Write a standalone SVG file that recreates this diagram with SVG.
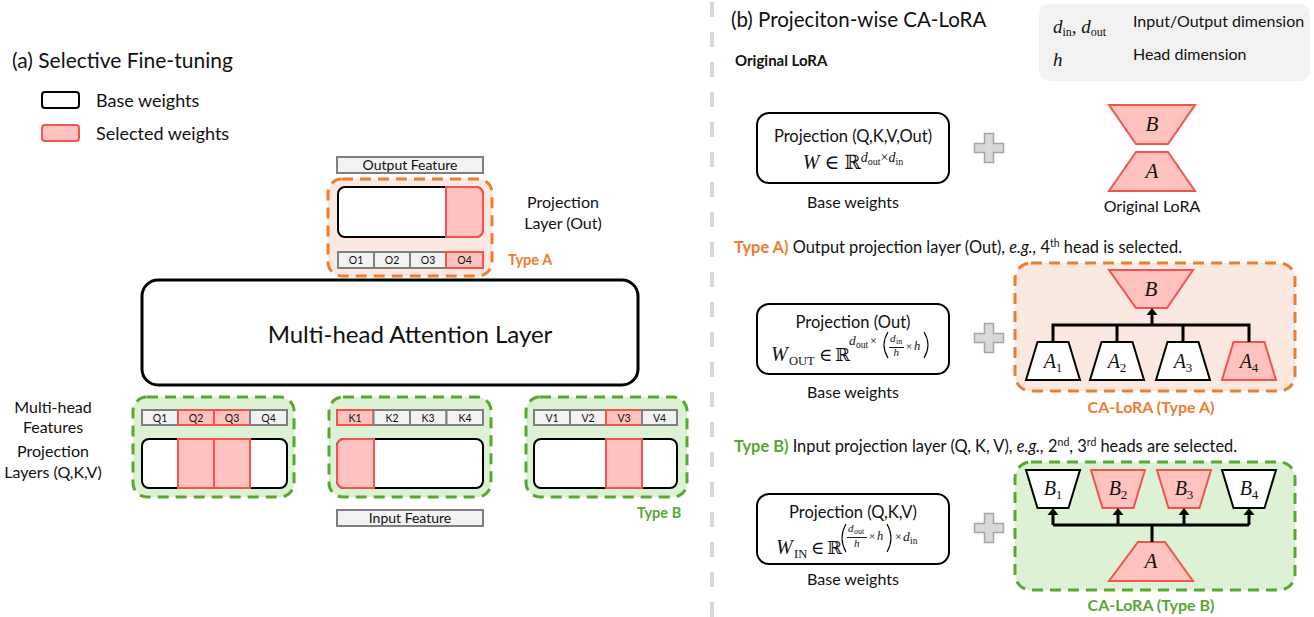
<svg xmlns="http://www.w3.org/2000/svg" width="1314" height="617" viewBox="0 0 1314 617">
<style>
text{font-family:Lato,"Liberation Sans",sans-serif;fill:#111}
.m{font-family:"Liberation Serif","DejaVu Serif",serif}
.i{font-style:italic}
.b{font-weight:bold}
.base{fill:#fff;stroke:#000;stroke-width:2}
.sel{fill:#FFC2BF;stroke:#F5534E;stroke-width:2}
.cell{fill:#F2F2F2;stroke:#7F7F7F;stroke-width:2}
.cellr{fill:#FFC2BF;stroke:#F5534E;stroke-width:2}
.ct{font-size:10.5px;text-anchor:middle}
.orng{fill:#FBE9E1;stroke:#ED7D31;stroke-width:3;stroke-dasharray:11 7}
.grn{fill:#DDF1D4;stroke:#5AA634;stroke-width:3;stroke-dasharray:11 7}
.wbox{fill:#fff;stroke:#000;stroke-width:2}
.plus{fill:#D9D9D9;stroke:#A5A5A5;stroke-width:1.5}
.conn{fill:none;stroke:#000;stroke-width:3}
.c{text-anchor:middle}
</style>
<defs>
<path id="plus" d="M-4.5,-14.5H4.5V-4.5H14.5V4.5H4.5V14.5H-4.5V4.5H-14.5V-4.5H-4.5Z"/>
</defs>

<!-- separator -->
<line x1="712" y1="2" x2="712" y2="617" stroke="#D9D9D9" stroke-width="4" stroke-dasharray="15 15"/>

<!-- (a) -->
<g id="title-a">
<text x="12" y="68" font-size="21">(a) Selective Fine-tuning</text>
</g>
<g id="legend-a">
<rect x="42" y="92" width="37" height="16" rx="3" class="base"/>
<text x="96" y="107" font-size="18">Base weights</text>
<rect x="42" y="125" width="37" height="16" rx="3" class="sel"/>
<text x="96" y="140" font-size="18">Selected weights</text>
</g>

<g id="output-feature">
<rect x="337" y="157" width="146" height="16" class="cell"/>
<text x="410" y="170" font-size="14" class="c">Output Feature</text>
</g>

<g id="proj-out">
<rect x="328" y="179" width="164" height="97" rx="14" class="orng"/>
<rect x="338" y="187" width="145" height="50" rx="7" class="base"/>
<path d="M446,187H476A7,7 0 0 1 483,194V230A7,7 0 0 1 476,237H446Z" class="sel"/>
<rect x="338" y="252" width="36" height="16" class="cell"/>
<rect x="374" y="252" width="36" height="16" class="cell"/>
<rect x="410" y="252" width="36" height="16" class="cell"/>
<rect x="446" y="252" width="37" height="16" class="cellr"/>
<text x="356" y="264" class="ct">O1</text>
<text x="392" y="264" class="ct">O2</text>
<text x="428" y="264" class="ct">O3</text>
<text x="464.5" y="264" class="ct">O4</text>
<text x="563" y="208" font-size="16" class="c">Projection</text>
<text x="563" y="229" font-size="16" class="c">Layer (Out)</text>
<text x="508" y="265" font-size="14.5" class="b" style="fill:#ED7D31">Type A</text>
</g>

<g id="mha">
<rect x="142" y="280" width="496" height="105" rx="16" fill="#fff" stroke="#000" stroke-width="3"/>
<text x="410" y="343" font-size="24" class="c">Multi-head Attention Layer</text>
</g>

<g id="labels-left">
<text x="53" y="413" font-size="16" class="c">Multi-head</text>
<text x="53" y="433" font-size="16" class="c">Features</text>
<text x="53" y="457" font-size="16" class="c">Projection</text>
<text x="53" y="478" font-size="16" class="c">Layers (Q,K,V)</text>
</g>

<g id="proj-q">
<rect x="133" y="397" width="161" height="100" rx="14" class="grn"/>
<rect x="142" y="410" width="36" height="15" class="cell"/>
<rect x="178" y="410" width="36" height="15" class="cellr"/>
<rect x="214" y="410" width="36" height="15" class="cellr"/>
<rect x="250" y="410" width="37" height="15" class="cell"/>
<text x="160" y="421.5" class="ct">Q1</text>
<text x="196" y="421.5" class="ct">Q2</text>
<text x="232" y="421.5" class="ct">Q3</text>
<text x="268.5" y="421.5" class="ct">Q4</text>
<rect x="142" y="439" width="145" height="49" rx="7" class="base"/>
<rect x="178" y="439" width="36" height="49" class="sel"/>
<rect x="214" y="439" width="36" height="49" class="sel"/>
</g>

<g id="proj-k">
<rect x="329" y="397" width="162" height="100" rx="14" class="grn"/>
<rect x="337" y="410" width="36.5" height="15" class="cellr"/>
<rect x="373.5" y="410" width="36.5" height="15" class="cell"/>
<rect x="410" y="410" width="36.5" height="15" class="cell"/>
<rect x="446.5" y="410" width="36.5" height="15" class="cell"/>
<text x="355" y="421.5" class="ct">K1</text>
<text x="392" y="421.5" class="ct">K2</text>
<text x="428" y="421.5" class="ct">K3</text>
<text x="465" y="421.5" class="ct">K4</text>
<rect x="337" y="439" width="146" height="49" rx="7" class="base"/>
<path d="M374,439H344A7,7 0 0 0 337,446V481A7,7 0 0 0 344,488H374Z" class="sel"/>
</g>

<g id="input-feature">
<rect x="337" y="510" width="146" height="16" class="cell"/>
<text x="410" y="523" font-size="14" class="c">Input Feature</text>
</g>

<g id="proj-v">
<rect x="526" y="397" width="161" height="100" rx="14" class="grn"/>
<rect x="534" y="410" width="36" height="15" class="cell"/>
<rect x="570" y="410" width="36" height="15" class="cell"/>
<rect x="606" y="410" width="36" height="15" class="cellr"/>
<rect x="642" y="410" width="35" height="15" class="cell"/>
<text x="552" y="421.5" class="ct">V1</text>
<text x="588" y="421.5" class="ct">V2</text>
<text x="624" y="421.5" class="ct">V3</text>
<text x="659.5" y="421.5" class="ct">V4</text>
<rect x="534" y="439" width="143" height="49" rx="7" class="base"/>
<rect x="606" y="439" width="36" height="49" class="sel"/>
<text x="637" y="518" font-size="14.5" class="b" style="fill:#5AA634">Type B</text>
</g>

<!-- (b) -->
<g id="title-b">
<text x="731" y="27" font-size="20.5">(b) Projeciton-wise CA-LoRA</text>
<text x="735" y="66" font-size="15" class="b">Original LoRA</text>
</g>

<g id="legend-b">
<rect x="1039" y="4" width="271" height="77" rx="10" fill="#F2F2F2"/>
<text x="1053" y="33" class="m" font-size="19"><tspan class="i">d</tspan><tspan font-size="12" dy="3">in</tspan><tspan dy="-3">, </tspan><tspan class="i">d</tspan><tspan font-size="12" dy="3">out</tspan></text>
<text x="1133" y="27" font-size="16">Input/Output dimension</text>
<text x="1053" y="66" class="m i" font-size="19">h</text>
<text x="1133" y="60" font-size="16">Head dimension</text>
</g>

<g id="base-orig">
<rect x="757" y="113" width="192" height="70" rx="12" class="wbox"/>
<text x="853" y="142" font-size="16.5" class="c">Projection (Q,K,V,Out)</text>
<text x="853" y="169" class="m c" font-size="20"><tspan class="i">W</tspan> ∈ ℝ<tspan font-size="14" dy="-7"><tspan class="i">d</tspan><tspan font-size="10" dy="3">out</tspan><tspan dy="-3">×</tspan><tspan class="i">d</tspan><tspan font-size="10" dy="3">in</tspan></tspan></text>
<text x="853" y="208" font-size="16" class="c">Base weights</text>
</g>

<g id="plus1"><use href="#plus" x="989" y="148" class="plus"/></g>

<g id="orig-lora">
<path d="M1109,105H1195L1168,144H1136Z" class="sel"/>
<path d="M1136,152H1168L1195,191H1109Z" class="sel"/>
<text x="1152" y="131" class="m i c" font-size="21">B</text>
<text x="1152" y="178" class="m i c" font-size="21">A</text>
<text x="1152" y="212" font-size="16" class="c">Original LoRA</text>
</g>

<g id="typeA-caption">
<text x="734" y="253" font-size="16.4"><tspan class="b" style="fill:#ED7D31">Type A)</tspan> Output projection layer (Out), <tspan class="i">e.g.,</tspan> 4<tspan font-size="10.5" dy="-6">th</tspan><tspan dy="6"> head is selected.</tspan></text>
</g>

<g id="base-out">
<rect x="757" y="304" width="192" height="70" rx="12" class="wbox"/>
<text x="853" y="328" font-size="16.5" class="c">Projection (Out)</text>
<text x="771" y="361" class="m i" font-size="20">W</text>
<text x="789" y="365" class="m" font-size="12.5">OUT</text>
<text x="819" y="361" class="m" font-size="18">∈</text>
<text x="835" y="361" class="m" font-size="18">ℝ</text>
<text x="849" y="345" class="m i" font-size="13.5">d</text>
<text x="856" y="348" class="m" font-size="9.5">out</text>
<text x="870" y="345" class="m" font-size="12">×</text>
<text x="890" y="342" class="m i" font-size="11">d</text>
<text x="896" y="344" class="m" font-size="8">in</text>
<text x="893.5" y="356" class="m i" font-size="11">h</text>
<text x="906" y="349.5" class="m" font-size="11">×</text>
<text x="914" y="349.5" class="m i" font-size="12.5">h</text>
<path d="M888,332Q880,345 888,358M924,332Q932,345 924,358" fill="none" stroke="#000" stroke-width="1.1"/>
<line x1="889" y1="347.5" x2="904" y2="347.5" stroke="#000" stroke-width="0.9"/>
<text x="853" y="398" font-size="16" class="c">Base weights</text>
</g>

<g id="plus2"><use href="#plus" x="989" y="338" class="plus"/></g>

<g id="ca-lora-a">
<rect x="1015" y="263" width="280" height="128" rx="16" class="orng"/>
<path d="M1109,270H1193L1167,308H1136Z" class="sel"/>
<text x="1151" y="296" class="m i c" font-size="21">B</text>
<path d="M1037.5,342H1068.5L1080,380H1026Z" class="base"/>
<path d="M1101.5,342H1132.5L1144,380H1090Z" class="base"/>
<path d="M1167.5,342H1198.5L1210,380H1156Z" class="base"/>
<path d="M1233.5,342H1264.5L1276,380H1222Z" class="sel"/>
<text x="1053" y="368" class="m i c" font-size="20">A<tspan font-size="13" font-style="normal" dy="4">1</tspan></text>
<text x="1117" y="368" class="m i c" font-size="20">A<tspan font-size="13" font-style="normal" dy="4">2</tspan></text>
<text x="1183" y="368" class="m i c" font-size="20">A<tspan font-size="13" font-style="normal" dy="4">3</tspan></text>
<text x="1249" y="368" class="m i c" font-size="20">A<tspan font-size="13" font-style="normal" dy="4">4</tspan></text>
<text x="1151" y="413" font-size="16" class="b c" style="fill:#ED7D31">CA-LoRA (Type A)</text>
</g>

<g id="typeB-caption">
<text x="734" y="452" font-size="16.4"><tspan class="b" style="fill:#5AA634">Type B)</tspan> Input projection layer (Q, K, V), <tspan class="i">e.g.,</tspan> 2<tspan font-size="10.5" dy="-6">nd</tspan><tspan dy="6">, 3</tspan><tspan font-size="10.5" dy="-6">rd</tspan><tspan dy="6"> heads are selected.</tspan></text>
</g>

<g id="base-in">
<rect x="757" y="494" width="192" height="70" rx="12" class="wbox"/>
<text x="853" y="518" font-size="16.5" class="c">Projection (Q,K,V)</text>
<text x="776" y="554" class="m i" font-size="20">W</text>
<text x="794" y="558" class="m" font-size="12.5">IN</text>
<text x="811" y="554" class="m" font-size="18">∈</text>
<text x="827" y="554" class="m" font-size="18">ℝ</text>
<text x="848" y="532" class="m i" font-size="11">d</text>
<text x="854" y="534" class="m" font-size="8">out</text>
<text x="854" y="547" class="m i" font-size="11">h</text>
<text x="869" y="540" class="m" font-size="11">×</text>
<text x="877" y="540" class="m i" font-size="12.5">h</text>
<text x="895" y="541" class="m" font-size="12">×</text>
<text x="903" y="541" class="m i" font-size="13.5">d</text>
<text x="910" y="544" class="m" font-size="9.5">in</text>
<path d="M846,524Q838,538 846,552M887,524Q895,538 887,552" fill="none" stroke="#000" stroke-width="1.1"/>
<line x1="847" y1="537.5" x2="867" y2="537.5" stroke="#000" stroke-width="0.9"/>
<text x="853" y="585" font-size="16" class="c">Base weights</text>
</g>

<g id="plus3"><use href="#plus" x="989" y="528" class="plus"/></g>

<g id="ca-lora-b">
<rect x="1015" y="462" width="280" height="128" rx="16" class="grn"/>
<path d="M1026,470H1080L1068.5,508H1037.5Z" class="base"/>
<path d="M1091,470H1145L1133.5,508H1102.5Z" class="sel"/>
<path d="M1157,470H1211L1199.5,508H1168.5Z" class="sel"/>
<path d="M1222,470H1276L1264.5,508H1233.5Z" class="base"/>
<text x="1053" y="495" class="m i c" font-size="20">B<tspan font-size="13" font-style="normal" dy="4">1</tspan></text>
<text x="1118" y="495" class="m i c" font-size="20">B<tspan font-size="13" font-style="normal" dy="4">2</tspan></text>
<text x="1184" y="495" class="m i c" font-size="20">B<tspan font-size="13" font-style="normal" dy="4">3</tspan></text>
<text x="1249" y="495" class="m i c" font-size="20">B<tspan font-size="13" font-style="normal" dy="4">4</tspan></text>
<path d="M1138,542H1165L1193,581H1109Z" class="sel"/>
<text x="1151" y="568" class="m i c" font-size="21">A</text>
<text x="1151" y="611" font-size="16" class="b c" style="fill:#5AA634">CA-LoRA (Type B)</text>
</g>

<g id="connectors">
<path class="conn" d="M1053,342V325H1249V342M1117,325V342M1183,325V342M1152,325V314"/>
<path d="M1146.5,315H1157.5L1152,308Z" fill="#000"/>
<path class="conn" d="M1152,542V525M1053,525H1249M1053,525V514M1118,525V514M1184,525V514M1249,525V514"/>
<path d="M1047.5,515H1058.5L1053,508ZM1112.5,515H1123.5L1118,508ZM1178.5,515H1189.5L1184,508ZM1243.5,515H1254.5L1249,508Z" fill="#000"/>
</g>
</svg>
